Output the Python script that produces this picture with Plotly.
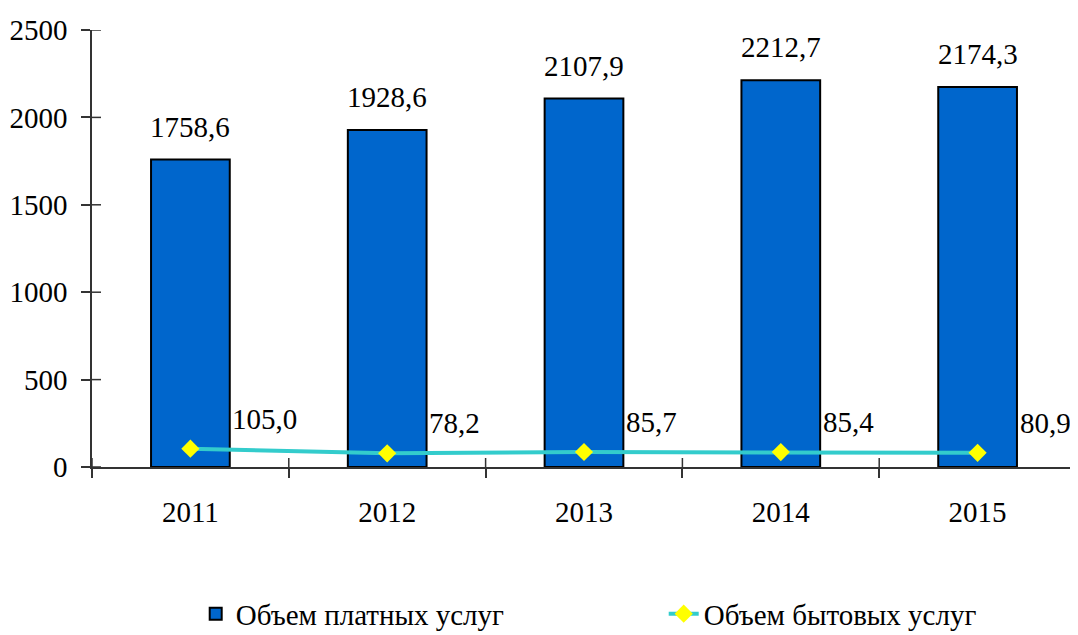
import plotly.graph_objects as go

years = ["2011", "2012", "2013", "2014", "2015"]
paid = [1758.6, 1928.6, 2107.9, 2212.7, 2174.3]
household = [105.0, 78.2, 85.7, 85.4, 80.9]
paid_labels = ["1758,6", "1928,6", "2107,9", "2212,7", "2174,3"]
household_labels = ["105,0", "78,2", "85,7", "85,4", "80,9"]
y_ticks = [0, 500, 1000, 1500, 2000, 2500]

FONT = "Liberation Serif, Times New Roman, serif"
AX = "#333333"
FS = 29

fig = go.Figure()
fig.add_trace(go.Bar(
    x=years, y=paid, name="Объем платных услуг",
    marker=dict(color="#0066CC", line=dict(color="black", width=2)),
))
fig.add_trace(go.Scatter(
    x=years, y=household, name="Объем бытовых услуг", mode="lines+markers",
    line=dict(color="#33CCCC", width=4),
    marker=dict(symbol="diamond", size=14, color="#FFFF00", line=dict(width=0)),
))

# подписи значений (x - номер категории, иначе "2011" читается как число)
for i, (y, t) in enumerate(zip(paid, paid_labels)):
    fig.add_annotation(x=i, y=y, text=t, showarrow=False, yshift=33,
                       font=dict(size=FS, color="black", family=FONT))
for i, (y, t) in enumerate(zip(household, household_labels)):
    fig.add_annotation(x=i, y=y, text=t, showarrow=False, xanchor="left",
                       xshift=40, yshift=30,
                       font=dict(size=FS, color="black", family=FONT))

# внутренние половинки засечек (засечки "крестом", как в Excel)
for v in y_ticks:
    fig.add_shape(type="line", xref="paper", yref="y", xsizemode="pixel", xanchor=0,
                  x0=0, x1=9, y0=v, y1=v, line=dict(color=AX, width=1.5))
for i in range(len(years) + 1):
    fig.add_shape(type="line", xref="x", yref="paper", ysizemode="pixel", yanchor=0,
                  x0=i - 0.5, x1=i - 0.5, y0=0, y1=9, line=dict(color=AX, width=1.5))

# страница добавляет отступ 8px (margin у body), поэтому фигура чуть меньше окна
fig.update_layout(
    width=1070, height=627,
    margin=dict(l=84, r=2, t=22, b=168, autoexpand=False),
    plot_bgcolor="white", paper_bgcolor="white",
    font=dict(family=FONT, size=FS, color="black"),
    bargap=0.6,
    showlegend=True,
    legend=dict(orientation="h", x=0.581, xanchor="center", y=-0.336, yanchor="middle",
                font=dict(size=FS), entrywidth=423, traceorder="normal"),
    xaxis=dict(type="category", range=[-0.5, len(years) - 0.5], automargin=False,
               showline=True, linecolor=AX, linewidth=1.5,
               ticks="outside", ticklen=9, tickcolor=AX, tickwidth=1.5,
               tickson="boundaries", showgrid=False, ticklabelstandoff=18),
    yaxis=dict(range=[0, 2500], tickvals=y_ticks, automargin=False,
               showline=True, linecolor=AX, linewidth=1.5,
               ticks="outside", ticklen=9, tickcolor=AX, tickwidth=1.5,
               showgrid=False, zeroline=False, ticklabelstandoff=8),
)

fig.write_html("out.html")
